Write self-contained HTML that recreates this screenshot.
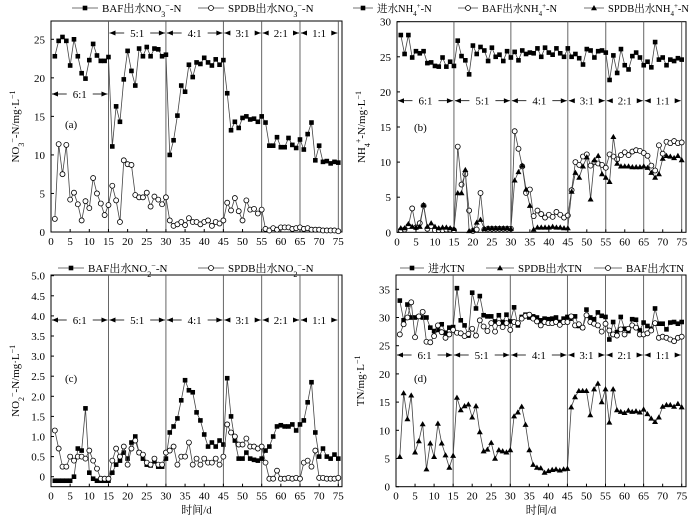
<!DOCTYPE html>
<html><head><meta charset="utf-8"><style>
html,body{margin:0;padding:0;background:#fff;}
svg text{font-family:"Liberation Serif","Noto Serif CJK SC","Noto Sans CJK SC",serif;fill:#000;}
</style></head><body>
<svg id="s" width="700" height="520" xmlns="http://www.w3.org/2000/svg"></svg>
<script>
const S=document.getElementById('s');let h='';
function P(x0,x75,yA,vA,yB,vB,fl,fr,ft,fb){return{X:d=>x0+(x75-x0)*d/75,Y:v=>yA+(yB-yA)*(v-vA)/(vB-vA),fl,fr,ft,fb};}
function sq(x,y){return `<rect x="${x-2.3}" y="${y-2.3}" width="4.6" height="4.6" fill="#000"/>`;}
function ci(x,y){return `<circle cx="${x}" cy="${y}" r="2.5" fill="#fff" stroke="#000" stroke-width="0.8"/>`;}
function tr(x,y){return `<polygon points="${x},${y-3} ${x-3},${y+2.2} ${x+3},${y+2.2}" fill="#000"/>`;}
function series(p,data,m){let pts=data.map((v,i)=>[p.X(i+1),p.Y(v)]);h+=`<polyline points="${pts.map(q=>q.join(',')).join(' ')}" fill="none" stroke="#444" stroke-width="0.8"/>`;pts.forEach(q=>h+=m(q[0],q[1]));}
function frame(p,yt,fmt,lab,plab,plx,ply,xlab){
 h+=`<rect x="${p.fl}" y="${p.ft}" width="${p.fr-p.fl}" height="${p.fb-p.ft}" fill="none" stroke="#000" stroke-width="1"/>`;
 [15,30,45,55,65,75].forEach(d=>{let x=p.X(d);h+=`<line x1="${x}" y1="${p.ft}" x2="${x}" y2="${p.fb}" stroke="#555" stroke-width="0.9"/>`;});
 for(let d=0;d<=75;d+=5){let x=p.X(d);h+=`<line x1="${x}" y1="${p.fb}" x2="${x}" y2="${p.fb-3}" stroke="#000"/><text x="${x}" y="${p.fb+13}" font-size="11" text-anchor="middle">${d}</text>`;}
 yt.forEach(v=>{let y=p.Y(v);h+=`<line x1="${p.fl}" y1="${y}" x2="${p.fl+3}" y2="${y}" stroke="#000"/><text x="${p.fl-6}" y="${y+4}" font-size="11" text-anchor="end">${fmt(v)}</text>`;});
 let cy=(p.ft+p.fb)/2,lx=p.fl-32;h+=`<text transform="translate(${lx},${cy}) rotate(-90)" font-size="11" text-anchor="middle">${lab}</text>`;
 h+=`<text x="${plx}" y="${ply}" font-size="11">${plab}</text>`;
 if(xlab)h+=`<text x="${(p.fl+p.fr)/2}" y="${p.fb+27}" font-size="11" text-anchor="middle">时间/d</text>`;
}
function ratio(p,a,b,y,t){let x1=p.X(a)+1,x2=p.X(b)-1,xm=(x1+x2)/2;h+=`<line x1="${x1}" y1="${y}" x2="${xm-13}" y2="${y}" stroke="#000" stroke-width="0.8"/><line x1="${xm+13}" y1="${y}" x2="${x2}" y2="${y}" stroke="#000" stroke-width="0.8"/><polygon points="${x1},${y} ${x1+6},${y-2.5} ${x1+6},${y+2.5}"/><polygon points="${x2},${y} ${x2-6},${y-2.5} ${x2-6},${y+2.5}"/><text x="${xm}" y="${y+4}" font-size="11" text-anchor="middle">${t}</text>`;}
function leg(x,y,m,t,L,fs){L=L||26;fs=fs||11;h+=`<line x1="${x}" y1="${y}" x2="${x+L}" y2="${y}" stroke="#444" stroke-width="0.8"/>`+m(x+L/2,y)+`<text x="${x+L+4}" y="${y+4}" font-size="${fs}">${t}</text>`;}
const R=[[0,15,'6:1'],[15,30,'5:1'],[30,45,'4:1'],[45,55,'3:1'],[55,65,'2:1'],[65,75,'1:1']];
// (a)
let a=P(51,338.3,232,0,39.3,25,51,342,21,232);
frame(a,[0,5,10,15,20,25],v=>v,'NO<tspan baseline-shift="sub" font-size="8">3</tspan><tspan baseline-shift="super" font-size="8">−</tspan>-N/mg·L<tspan baseline-shift="super" font-size="8">−1</tspan>','(a)',65,128);
series(a,[22.8,24.8,25.3,24.8,21.6,25,22.8,20.6,19.9,22.3,24.4,22.9,22.2,22.2,22.7,11.1,16.3,14.3,19.8,23.5,20.9,19,23.8,22.8,24,22.8,23.8,23.7,22.8,23,10,11.9,15.1,19,18.2,21.7,20.1,22,21.8,22.6,22,21.6,22.4,21.7,22.3,18,13.2,14.3,13.5,14.8,15,14.6,14.7,14.3,15,14.2,11.2,11.2,12.3,11,11,12.2,11.3,10.9,12,10.7,12.7,14.2,9.3,11.2,9.1,9.2,8.9,9.1,9],sq);
series(a,[1.7,11.4,7.5,11.3,4.2,5.1,3.6,1.5,4,3.1,7,5,3.7,2.2,3.5,6,4.1,1.3,9.3,8.8,8.7,4.8,4.5,4.5,5.1,3.3,4.6,4.2,3.6,4.5,1.5,0.8,1,1.3,0.9,1.8,1.3,1.3,1,1.3,1.5,0.8,1.3,1.1,1.5,3.8,2.8,4.4,2.7,1.5,4.1,2.9,3,2.4,2.9,0.4,0.2,0.5,0.3,0.6,0.6,0.6,0.4,0.5,0.6,0.4,0.5,0.3,0.3,0.3,0.2,0.2,0.2,0.2,0.1],ci);
R.forEach((r,i)=>ratio(a,r[0],r[1],i==0?94:33,r[2]));
leg(72,8,sq,'BAF出水NO<tspan baseline-shift="sub" font-size="8">3</tspan><tspan baseline-shift="super" font-size="8">−</tspan>-N');
leg(198,8,ci,'SPDB出水NO<tspan baseline-shift="sub" font-size="8">3</tspan><tspan baseline-shift="super" font-size="8">−</tspan>-N');
// (b)
let b=P(397,681.7,232.3,0,21.7,30,397,686,21.7,232.3);
frame(b,[0,5,10,15,20,25,30],v=>v,'NH<tspan baseline-shift="sub" font-size="8">4</tspan><tspan baseline-shift="super" font-size="8">+</tspan>-N/mg·L<tspan baseline-shift="super" font-size="8">−1</tspan>','(b)',414,131);
series(b,[28.1,25.4,28.1,24.9,25.8,25.5,25.8,24.1,24.2,23.7,23.6,24.9,23.6,24.3,23.7,27.3,25.1,24.5,22.5,26.6,25.4,26.4,25.9,24.4,26.3,25,25.3,24.4,25.8,24.9,25.7,24.5,25.9,25.4,25.6,25.5,26.2,25,26.3,25.6,25.3,26.2,25.5,25,26.2,25,25.4,24.8,23.9,26.1,25.9,24.9,25.8,25.9,25.6,21.7,25.2,22.7,26.1,23.8,23.2,25.1,25.6,24.9,23.8,24.3,23.5,27.1,24.6,24.9,23.8,24.6,24.4,24.8,24.6],sq);
series(b,[0.3,0.4,0.9,3.4,0.7,1.3,3.8,0.5,0.9,0.3,0.3,0.3,0.4,0.4,0.3,12.2,6.8,8.3,3.1,0.2,0.4,5.6,0.4,0.5,0.5,0.5,0.5,0.5,0.5,0.5,14.4,11.9,9.4,5.6,6.1,2.3,3.1,2.6,2.1,2.5,2.2,2.9,2.5,2.1,2.4,6,10,9.6,10.8,11.1,9.5,10,9.8,9.6,9.2,11.1,10.8,10.4,11,11.4,11,11.5,11.7,11.6,11.3,10.9,9.5,8.8,12.4,11.2,12.9,12.7,13,12.7,12.8],ci);
series(b,[0.6,0.6,1.2,0.8,0.7,0.8,3.9,0.8,1.3,0.8,0.6,0.7,0.7,0.6,0.5,5.6,5.6,8.9,0.2,0.3,1.4,1.8,0.5,0.6,0.6,0.6,0.6,0.6,0.6,0.5,7.4,8.6,9.5,6.1,3.8,0.4,0.7,0.7,0.7,0.7,0.8,0.7,0.7,0.6,0.6,5.8,8.5,7.8,9.4,10.7,4.7,10.3,10.9,8.3,7.8,7.2,13.6,9.8,9.4,9.4,9.4,9.3,9.3,9.3,9.4,9.2,8.5,7.8,8.3,10.5,10.9,10.8,10.6,10.9,10.3],tr);
R.forEach(r=>ratio(b,r[0],r[1],100.7,r[2]));
leg(353,8,sq,'进水NH<tspan baseline-shift="sub" font-size="7">4</tspan><tspan baseline-shift="super" font-size="7">+</tspan>-N',20,10.5);
leg(458,8,ci,'BAF出水NH<tspan baseline-shift="sub" font-size="7">4</tspan><tspan baseline-shift="super" font-size="7">+</tspan>-N',20,10.5);
leg(584,8,tr,'SPDB出水NH<tspan baseline-shift="sub" font-size="7">4</tspan><tspan baseline-shift="super" font-size="7">+</tspan>-N',20,10.5);
// (c)
let c=P(51,338.3,476.7,0,275.7,5,51,342,275,486.7);
frame(c,[0,0.5,1,1.5,2,2.5,3,3.5,4,4.5,5],v=>v==0?'0':v.toFixed(1),'NO<tspan baseline-shift="sub" font-size="8">2</tspan><tspan baseline-shift="super" font-size="8">−</tspan>-N/mg·L<tspan baseline-shift="super" font-size="8">−1</tspan>','(c)',65,382,true);
series(c,[-0.1,-0.1,-0.1,-0.1,-0.1,0,0.7,0.65,1.7,0.1,-0.05,-0.1,-0.1,-0.1,-0.1,0.1,0.3,0.4,0.6,0.45,0.85,1,0.6,0.45,0.3,0.28,0.38,0.25,0.25,0.45,1.1,1.25,1.45,1.9,2.4,2.15,2.1,1.6,1.4,1.05,0.75,0.85,0.75,0.9,0.8,2.45,1.5,0.9,0.45,0.45,0.6,0.45,0.42,0.4,0.45,0.65,0.75,1,1.25,1.28,1.25,1.25,1.3,1.15,1.3,1.4,1.85,2.35,1.1,0.5,0.7,0.5,0.45,0.55,0.45],sq);
series(c,[1.15,0.7,0.25,0.25,0.5,0.4,0.5,0.5,0.45,0.65,0.4,0.2,-0.05,-0.05,-0.05,0.4,0.7,0.5,0.75,0.3,0.7,0.9,0.6,0.55,0.35,0.3,0.45,0.3,0.3,0.6,0.65,0.75,0.3,0.5,0.5,0.85,0.3,0.45,0.3,0.45,0.35,0.35,0.45,0.3,0.5,1.3,1.1,1,0.8,0.8,0.95,0.75,0.75,0.7,0.75,0.35,-0.05,-0.05,0.15,-0.05,-0.05,-0.03,-0.05,-0.03,-0.05,0.35,0.4,0.25,0.65,-0.03,-0.03,-0.05,-0.05,-0.05,-0.03],ci);
R.forEach(r=>ratio(c,r[0],r[1],320,r[2]));
leg(58,268,sq,'BAF出水NO<tspan baseline-shift="sub" font-size="8">2</tspan><tspan baseline-shift="super" font-size="8">−</tspan>-N');
leg(198,268,ci,'SPDB出水NO<tspan baseline-shift="sub" font-size="8">2</tspan><tspan baseline-shift="super" font-size="8">−</tspan>-N');
// (d)
let d=P(396,681.7,486.7,0,289.3,35,396,686,275,486.7);
frame(d,[0,5,10,15,20,25,30,35],v=>v,'TN/mg·L<tspan baseline-shift="super" font-size="8">−1</tspan>','(d)',414,382,true);
series(d,[33,29.5,32.3,30,30,30.2,30,30,28.2,27.6,27.8,28.8,27.3,28.2,28.3,35.2,29.5,28.6,26.8,34.4,31.6,33.8,30.4,30.2,30.2,29.3,30.4,29.2,30.5,29.3,31.8,28.6,30.1,30.5,30,30.2,30,29.5,29.8,29.7,29.8,30,29.2,29.8,30.1,29.8,30.2,28.5,28.2,31.4,30,29.7,30.9,30.3,30.1,26.1,29.2,27.4,30.1,28,27.6,29.7,29.6,27.7,29.1,28.5,28,31.6,28.9,28.9,27.9,29.1,29.2,28.9,29.2],sq);
series(d,[27,28.8,30,32.7,26.5,30.2,31,25.7,25.6,26.7,28.6,27.4,26.4,27,27.8,27.3,27.2,26.7,27.1,28,26.8,29.5,28.4,27.6,29,27.5,29,28.3,29,27.8,29.2,29,29.8,30.3,30.5,29.8,29.3,28.6,29.2,29,29,29.2,28.7,29.2,29.2,30.2,28.6,28.8,28.2,30.4,29.2,28.9,28.6,27.5,28.9,27.7,27,26.8,27.9,27,28,28.6,28.2,27,27,27.2,27.7,29,26.4,26.6,26.4,26.1,25.8,26.4,26.6],ci);
series(d,[5.3,16.6,12,16.2,6.1,8.1,11.1,3.1,7.7,5.3,11.2,7.7,5.6,3.4,5.5,15.8,13.6,14.3,14.6,12.3,14.3,9.7,6.3,6.6,7.8,5,6.5,6.3,6.1,6.5,12.5,13.2,14.2,11,6.5,3.9,3.4,3.3,2.5,2.8,3,3.1,2.9,3.1,3.2,14.1,15.9,17,17,17,12.7,17.3,18.3,15,17.3,11.4,17.3,13.6,13.3,13.1,13.5,13.3,13.4,13.2,13.7,12.9,12.1,11.5,12.3,14.2,14.5,14.5,14.2,14.7,14.1],tr);
R.forEach(r=>ratio(d,r[0],r[1],355,r[2]));
leg(400,268,sq,'进水TN',24);
leg(486,268,tr,'SPDB出水TN',28);
leg(594,268,ci,'BAF出水TN',28);
S.innerHTML=h;
</script>
</body></html>
